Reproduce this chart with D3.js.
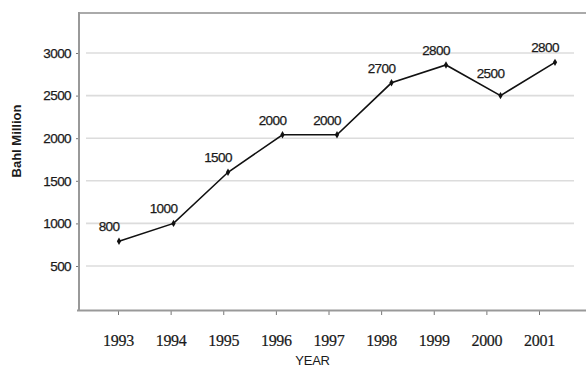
<!DOCTYPE html>
<html><head><meta charset="utf-8">
<script src="https://cdn.jsdelivr.net/npm/d3@7"></script>
<style>body{margin:0;background:#fff}svg{display:block}</style>
</head><body>
<svg id="c" width="586" height="369"></svg>
<script>
const years = [1993,1994,1995,1996,1997,1998,1999,2000,2001];
const values = [790,1000,1600,2040,2040,2650,2860,2500,2890];
const valueLabels = ["800","1000","1500","2000","2000","2700","2800","2500","2800"];
const yTicks = [500,1000,1500,2000,2500,3000];
const yTitle = "Bahl Million";
const xTitle = "YEAR";

const svg = d3.select("#c");
const y = d3.scaleLinear().domain([0,3500]).range([308.6,10.4]);
const xAxisScale = d3.scalePoint().domain(years).range([118,539]);
const xLine = d3.scaleLinear().domain([1993,2001]).range([119,555]);
const sans = "Arial, 'Liberation Sans', sans-serif";

// gridlines
svg.append("g").selectAll("line").data(yTicks).join("line")
  .attr("x1",86).attr("x2",574)
  .attr("y1",d=>y(d)).attr("y2",d=>y(d))
  .attr("stroke","#dcdcdc").attr("stroke-width",1.6);

// top border
svg.append("line").attr("x1",79).attr("x2",586).attr("y1",13).attr("y2",13)
  .attr("stroke","#aaa").attr("stroke-width",2.2);

// y axis
const ya = svg.append("g").attr("transform","translate(79,0)")
  .call(d3.axisLeft(y).tickValues(yTicks).tickSize(3).tickPadding(5).tickFormat(d3.format("d")));
ya.select(".domain").remove();
ya.selectAll(".tick line").attr("stroke","#777");
ya.selectAll("text").attr("font-family",sans)
  .attr("font-size",13.5).attr("fill","#1a1a1a").attr("letter-spacing","-0.6")
  .attr("stroke","#1a1a1a").attr("stroke-width",0.25);
svg.append("line").attr("x1",79).attr("x2",79).attr("y1",12).attr("y2",311)
  .attr("stroke","#999").attr("stroke-width",2);

// x axis
const xa = svg.append("g").attr("transform","translate(0,311)")
  .call(d3.axisBottom(xAxisScale).tickSize(4).tickPadding(20));
xa.select(".domain").remove();
xa.selectAll(".tick line").attr("stroke","#777");
xa.selectAll("text").attr("font-family","'Liberation Serif', 'Times New Roman', serif")
  .attr("font-size",16).attr("fill","#1a1a1a").attr("letter-spacing","-0.3")
  .attr("stroke","#1a1a1a").attr("stroke-width",0.2);
svg.append("line").attr("x1",77).attr("x2",586).attr("y1",310.5).attr("y2",310.5)
  .attr("stroke","#999").attr("stroke-width",2);

// titles
svg.append("text").attr("x",xAxisScale(1997)-16).attr("y",365)
  .attr("text-anchor","middle").attr("font-family",sans)
  .attr("font-size",13).attr("fill","#1a1a1a").attr("letter-spacing","-0.2").text(xTitle);
svg.append("text").attr("transform","translate(21,141) rotate(-90)")
  .attr("text-anchor","middle").attr("font-family",sans)
  .attr("font-size",13).attr("font-weight","bold").attr("fill","#1a1a1a").text(yTitle);

// line
const pts = years.map((yr,i)=>({yr, v:values[i], lab:valueLabels[i]}));
svg.append("path").datum(pts)
  .attr("d", d3.line().x(d=>xLine(d.yr)).y(d=>y(d.v)))
  .attr("fill","none").attr("stroke","#111").attr("stroke-width",1.6);
svg.append("g").selectAll("path").data(pts).join("path")
  .attr("transform",d=>`translate(${xLine(d.yr)},${y(d.v)})`)
  .attr("d", d3.symbol().type(d3.symbolDiamond).size(16))
  .attr("fill","#111");

// value labels
svg.append("g").selectAll("text").data(pts).join("text")
  .attr("x",d=>xLine(d.yr)-10).attr("y",(d,i)=>y(d.v)-(i===7?18:10))
  .attr("text-anchor","middle").attr("font-family",sans)
  .attr("font-size",13.5).attr("fill","#1a1a1a").attr("letter-spacing","-0.6")
  .attr("stroke","#1a1a1a").attr("stroke-width",0.25)
  .text(d=>d.lab);
</script>
</body></html>
